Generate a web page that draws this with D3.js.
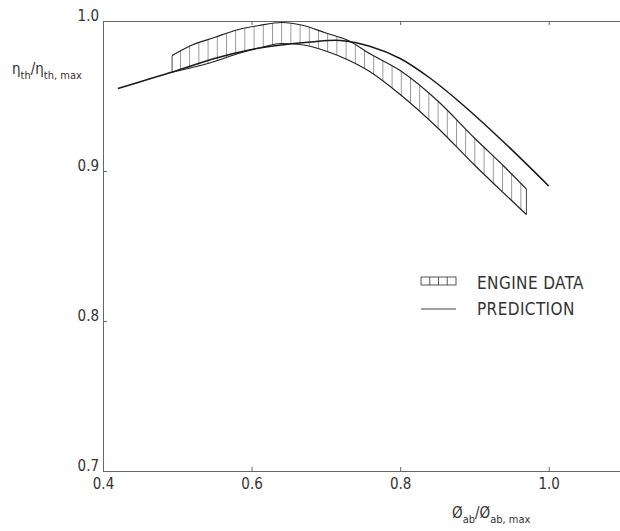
<!DOCTYPE html>
<html>
<head>
<meta charset="utf-8">
<script src="https://cdn.jsdelivr.net/npm/d3@7"></script>
<style>
  body { margin: 0; background: #fff; }
  text { font-family: "DejaVu Sans", sans-serif; font-stretch: condensed; fill: #333; }
</style>
</head>
<body>
<svg id="chart" width="620" height="531"></svg>
<script>
// values
const xTicks = [0.4, 0.6, 0.8, 1.0];
const yTicks = [0.7, 0.8, 0.9, 1.0];

// engine data band (upper / lower edge at the same x)
const bandX     = [0.493, 0.52, 0.55, 0.58, 0.61, 0.64, 0.67, 0.70, 0.73, 0.76, 0.80, 0.85, 0.90, 0.94, 0.97];
const bandUpper = [0.977, 0.984, 0.989, 0.994, 0.997, 0.999, 0.997, 0.992, 0.987, 0.978, 0.967, 0.947, 0.922, 0.903, 0.888];
const bandLower = [0.966, 0.969, 0.973, 0.978, 0.982, 0.985, 0.984, 0.980, 0.974, 0.966, 0.951, 0.929, 0.904, 0.885, 0.871];

// prediction line
const predX = [0.42, 0.46, 0.50, 0.55, 0.60, 0.64, 0.68, 0.72, 0.76, 0.80, 0.84, 0.88, 0.94, 1.0];
const predY = [0.955, 0.961, 0.967, 0.975, 0.981, 0.984, 0.986, 0.987, 0.983, 0.975, 0.962, 0.946, 0.919, 0.890];

const svg = d3.select("#chart");

const x = d3.scaleLinear().domain([0.4, 1.1]).range([103, 623]);
const y = d3.scaleLinear().domain([0.7, 1.0]).range([471, 21]);

// hatch pattern for the band
svg.append("defs").append("pattern")
  .attr("id", "hatch")
  .attr("patternUnits", "userSpaceOnUse")
  .attr("x", 180).attr("y", 0)
  .attr("width", 9.2).attr("height", 40)
  .append("line")
  .attr("x1", 0.5).attr("x2", 0.5).attr("y1", 0).attr("y2", 40)
  .attr("stroke", "#666").attr("stroke-width", 0.7);

// axes
const fmt = d3.format(".1f");
const xAxisBottom = svg.append("g")
  .attr("transform", "translate(0," + y(0.7) + ")")
  .call(d3.axisBottom(x).tickValues(xTicks).tickFormat(fmt).tickSizeInner(-4).tickSizeOuter(0));
xAxisBottom.selectAll("text").attr("y", 18).attr("dy", 0).style("font-size", "15px");

svg.append("g")
  .attr("transform", "translate(0," + y(1.0) + ")")
  .call(d3.axisTop(x).tickValues(xTicks).tickFormat("").tickSizeInner(-4).tickSizeOuter(0));

const yAxisLeft = svg.append("g")
  .attr("transform", "translate(" + x(0.4) + ",0)")
  .call(d3.axisLeft(y).tickValues(yTicks).tickFormat(fmt).tickSizeInner(-4).tickSizeOuter(0));
yAxisLeft.selectAll("text").attr("x", -4).attr("dy", "-0.05em").style("font-size", "15px");

svg.selectAll(".domain").attr("stroke", "#666");
svg.selectAll(".tick line").attr("stroke", "#666");

// band
const band = bandX.map((v, i) => ({x: v, lo: bandLower[i], hi: bandUpper[i]}));
svg.append("path")
  .datum(band)
  .attr("fill", "url(#hatch)")
  .attr("stroke", "none")
  .attr("d", d3.area().curve(d3.curveMonotoneX)
    .x(d => x(d.x)).y0(d => y(d.lo)).y1(d => y(d.hi)));

const edge = key => d3.line().curve(d3.curveMonotoneX).x(d => x(d.x)).y(d => y(d[key]));
["hi", "lo"].forEach(k => {
  svg.append("path").datum(band)
    .attr("fill", "none").attr("stroke", "#222").attr("stroke-width", 1.2)
    .attr("d", edge(k));
});
// band end caps
[band[0], band[band.length - 1]].forEach(d => {
  svg.append("line")
    .attr("x1", x(d.x)).attr("x2", x(d.x))
    .attr("y1", y(d.hi)).attr("y2", y(d.lo))
    .attr("stroke", "#333").attr("stroke-width", 0.9);
});

// prediction
const pred = predX.map((v, i) => ({x: v, y: predY[i]}));
svg.append("path")
  .datum(pred)
  .attr("fill", "none")
  .attr("stroke", "#1a1a1a")
  .attr("stroke-width", 1.5)
  .attr("d", d3.line().curve(d3.curveCatmullRom).x(d => x(d.x)).y(d => y(d.y)));

// legend
const lg = svg.append("g");
lg.append("rect")
  .attr("x", 421).attr("y", 277).attr("width", 35).attr("height", 8)
  .attr("fill", "none").attr("stroke", "#444").attr("stroke-width", 0.9);
[1, 2, 3].forEach(i => {
  lg.append("line")
    .attr("x1", 421 + i * 35 / 4).attr("x2", 421 + i * 35 / 4)
    .attr("y1", 277).attr("y2", 285)
    .attr("stroke", "#444").attr("stroke-width", 0.9);
});
lg.append("text").attr("x", 477).attr("y", 289).style("font-size", "17px").style("letter-spacing", "0.4px").text("ENGINE DATA");
lg.append("line")
  .attr("x1", 421).attr("x2", 456).attr("y1", 309).attr("y2", 309)
  .attr("stroke", "#444").attr("stroke-width", 1);
lg.append("text").attr("x", 477).attr("y", 315).style("font-size", "17px").style("letter-spacing", "0.4px").text("PREDICTION");

// axis titles
const yt = svg.append("text").attr("x", 12).attr("y", 74).style("font-size", "15px");
yt.append("tspan").text("η");
yt.append("tspan").attr("dy", 5).style("font-size", "11px").text("th");
yt.append("tspan").attr("dy", -5).text("/η");
yt.append("tspan").attr("dy", 5).style("font-size", "11px").text("th, max");

const xt = svg.append("text").attr("x", 452).attr("y", 518).style("font-size", "15px");
xt.append("tspan").text("Ø");
xt.append("tspan").attr("dy", 5).style("font-size", "11px").text("ab");
xt.append("tspan").attr("dy", -5).text("/Ø");
xt.append("tspan").attr("dy", 5).style("font-size", "11px").text("ab, max");
</script>
</body>
</html>
